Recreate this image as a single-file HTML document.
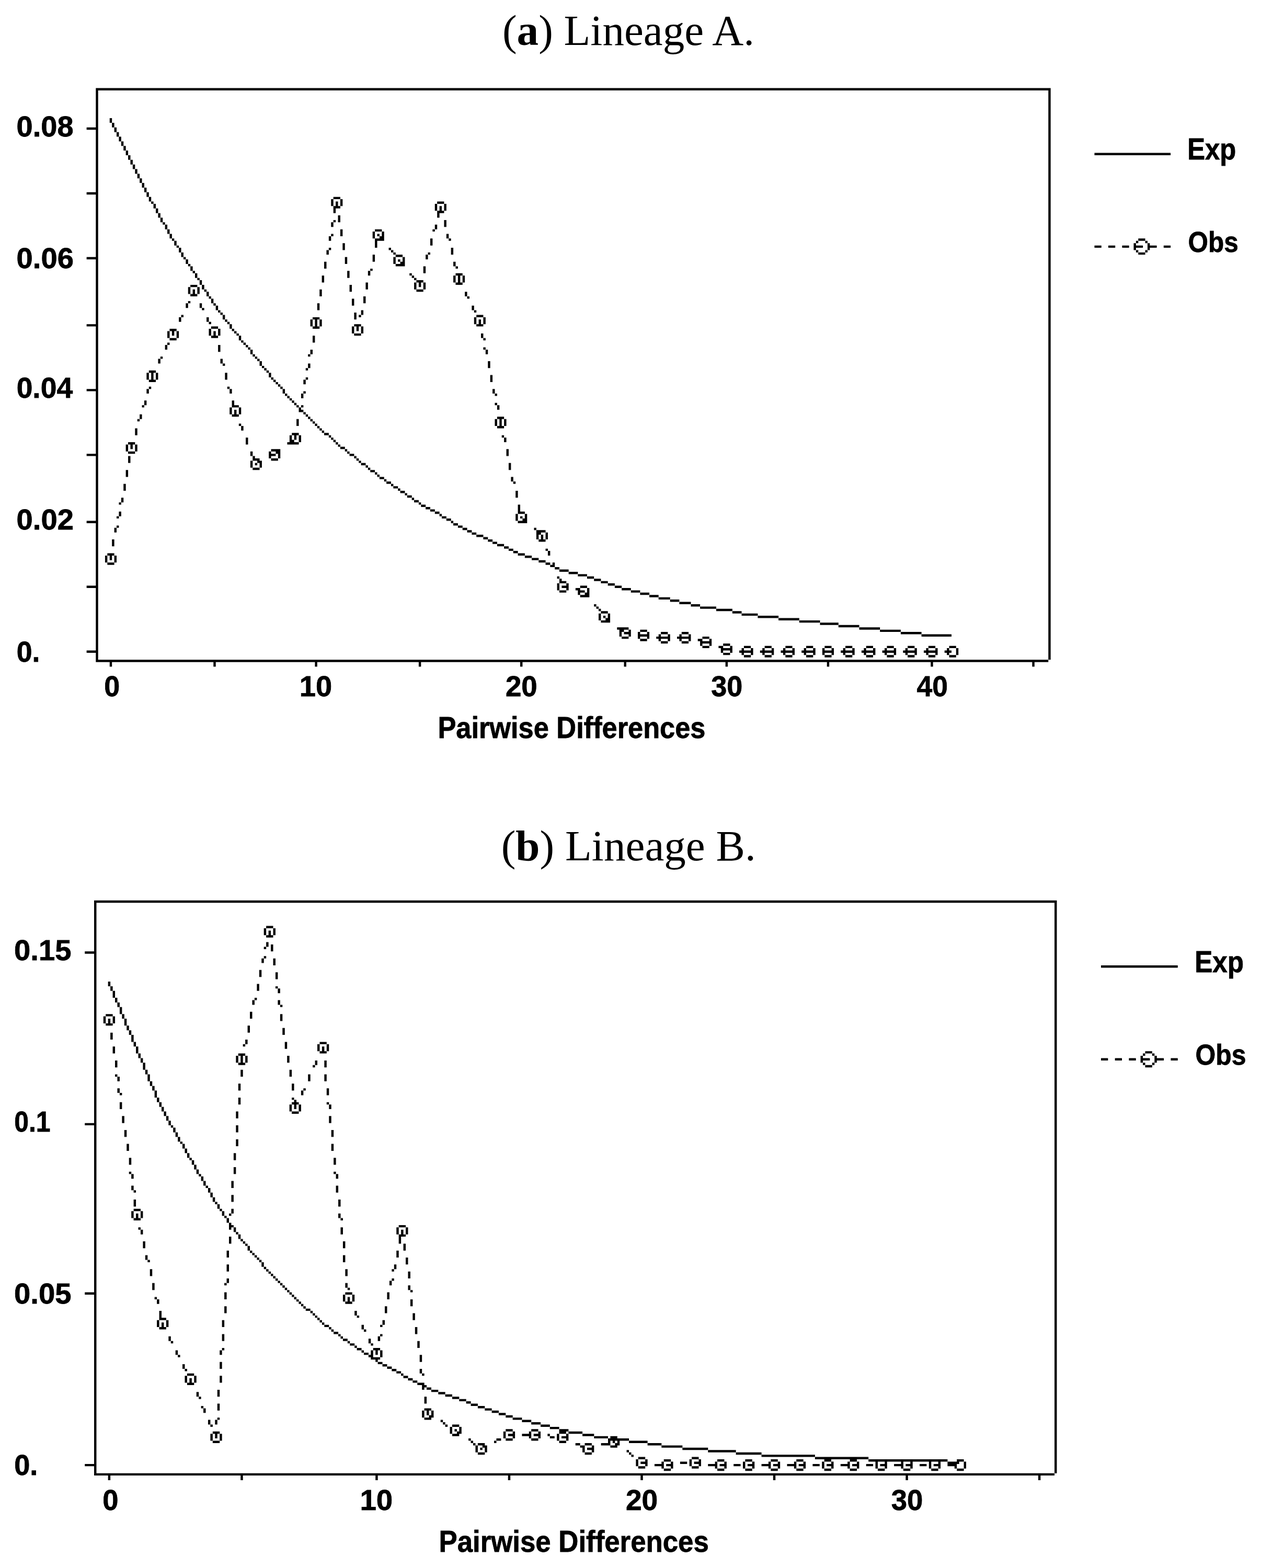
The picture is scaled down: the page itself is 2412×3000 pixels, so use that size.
<!DOCTYPE html>
<html lang="en">
<head>
<meta charset="utf-8">
<title>Mismatch distributions: Lineage A and Lineage B</title>
<style>
html,body{margin:0;padding:0;background:#fff;}
body{width:2412px;height:3000px;overflow:hidden;}
svg{display:block;}
.t{font-family:"Liberation Serif","DejaVu Serif",serif;fill:#000;}
.s{font-family:"Liberation Sans","DejaVu Sans",sans-serif;font-weight:bold;fill:#000;stroke:#000;stroke-width:0.8px;stroke-linejoin:miter;}
.plot{fill:#000;}
</style>
</head>
<body>
<svg width="2412" height="3000" viewBox="0 0 2412 3000" role="img">
<rect width="2412" height="3000" fill="#fff"/>
<g id="panel-a">
<path class="plot" transform="translate(183.3,168.55) scale(4.4115,4.4278)" d="M-4 17h5v1h-5zM-4 45h5v1h-5zM-4 73h5v1h-5zM-4 102h5v1h-5zM-4 130h5v1h-5zM-4 158h5v1h-5zM-4 187h5v1h-5zM-4 215h5v1h-5zM-4 243h5v1h-5zM0 1h1v16h-1zM0 18h1v27h-1zM0 46h1v27h-1zM0 74h1v28h-1zM0 103h1v27h-1zM0 131h1v27h-1zM0 159h1v28h-1zM0 188h1v27h-1zM0 216h1v27h-1zM0 244h1v3h-1zM0 247h413v1h-413zM0 0h414v1h-414zM4 202h1v3h-1zM5 201h3v1h-3zM5 205h3v1h-3zM6 13h1v2h-1zM6 202h1v2h-1zM6 248h1v2h-1zM7 15h1v2h-1zM7 195h1v3h-1zM8 17h1v2h-1zM8 190h1v2h-1zM8 202h1v3h-1zM9 19h1v2h-1zM9 185h1v1h-1zM9 189h1v1h-1zM10 21h1v2h-1zM10 179h1v1h-1zM10 183h1v2h-1zM11 23h1v2h-1zM11 177h1v2h-1zM12 25h1v2h-1zM12 171h1v3h-1zM13 27h1v2h-1zM13 154h1v3h-1zM13 165h1v3h-1zM14 29h1v2h-1zM14 159h1v3h-1zM14 153h3v1h-3zM14 157h3v1h-3zM15 31h1v2h-1zM15 154h1v2h-1zM16 33h1v2h-1zM17 35h1v2h-1zM17 147h1v3h-1zM17 154h1v3h-1zM18 37h1v2h-1zM18 143h1v1h-1zM19 39h1v2h-1zM19 141h1v2h-1zM20 41h1v2h-1zM20 137h1v1h-1zM21 43h1v2h-1zM21 135h1v2h-1zM22 45h1v2h-1zM22 123h1v3h-1zM22 130h1v2h-1zM23 47h1v2h-1zM23 129h1v1h-1zM23 122h3v1h-3zM23 126h3v1h-3zM24 49h1v1h-1zM24 123h1v3h-1zM25 50h1v2h-1zM26 52h1v2h-1zM26 123h1v3h-1zM27 54h1v2h-1zM27 117h1v2h-1zM28 56h1v2h-1zM28 116h1v1h-1zM29 58h1v1h-1zM30 59h1v2h-1zM30 111h1v2h-1zM31 61h1v2h-1zM31 105h1v3h-1zM31 110h1v1h-1zM32 63h1v2h-1zM32 104h3v1h-3zM32 108h3v1h-3zM33 65h1v1h-1zM33 105h1v2h-1zM34 66h1v2h-1zM35 68h1v1h-1zM35 105h1v3h-1zM36 69h1v2h-1zM36 99h1v2h-1zM37 71h1v2h-1zM37 98h1v1h-1zM38 73h1v1h-1zM39 74h1v2h-1zM39 93h1v2h-1zM40 76h1v1h-1zM40 86h1v3h-1zM40 92h1v1h-1zM41 77h1v2h-1zM41 85h3v1h-3zM41 89h3v1h-3zM42 79h1v1h-1zM42 87h1v2h-1zM43 80h1v2h-1zM44 82h1v1h-1zM44 86h1v3h-1zM45 83h1v2h-1zM45 93h1v2h-1zM46 85h1v2h-1zM46 95h1v1h-1zM47 87h1v1h-1zM48 88h1v2h-1zM48 99h1v2h-1zM49 90h1v1h-1zM49 101h1v1h-1zM49 104h1v3h-1zM50 91h1v2h-1zM50 103h3v1h-3zM50 107h3v1h-3zM51 93h1v1h-1zM51 105h1v2h-1zM51 248h1v2h-1zM52 94h1v2h-1zM53 96h1v1h-1zM53 104h1v3h-1zM53 111h1v3h-1zM54 97h1v1h-1zM54 117h1v2h-1zM55 98h1v2h-1zM55 119h1v1h-1zM56 100h1v1h-1zM56 123h1v3h-1zM57 101h1v1h-1zM57 129h1v1h-1zM58 102h1v2h-1zM58 130h1v2h-1zM58 138h1v3h-1zM59 104h1v1h-1zM59 135h1v2h-1zM59 137h3v1h-3zM59 141h3v1h-3zM60 105h1v1h-1zM60 139h1v2h-1zM61 106h1v1h-1zM62 107h1v2h-1zM62 138h1v3h-1zM62 145h1v1h-1zM63 109h1v1h-1zM63 146h1v2h-1zM64 110h1v1h-1zM65 111h1v1h-1zM65 151h1v3h-1zM66 112h1v1h-1zM67 113h1v2h-1zM67 157h1v2h-1zM67 161h1v3h-1zM68 115h1v1h-1zM68 159h1v1h-1zM68 160h3v1h-3zM68 164h3v1h-3zM69 116h1v1h-1zM69 162h1v1h-1zM70 117h1v1h-1zM70 161h2v1h-2zM71 118h1v2h-1zM71 162h1v2h-1zM72 120h1v1h-1zM73 121h1v1h-1zM74 122h1v1h-1zM75 123h1v2h-1zM75 157h1v1h-1zM75 159h1v1h-1zM75 158h3v1h-3zM76 125h1v1h-1zM76 160h3v1h-3zM76 156h4v1h-4zM77 126h1v1h-1zM78 127h1v1h-1zM78 157h2v1h-2zM79 128h1v1h-1zM79 158h1v2h-1zM80 129h1v1h-1zM81 130h1v2h-1zM82 132h1v1h-1zM83 133h1v1h-1zM83 153h5v1h-5zM84 134h1v1h-1zM84 150h1v2h-1zM84 152h2v1h-2zM85 135h1v1h-1zM85 149h3v1h-3zM86 136h1v1h-1zM86 150h1v2h-1zM87 137h1v1h-1zM87 143h1v3h-1zM88 138h1v1h-1zM88 150h1v3h-1zM88 139h2v1h-2zM89 132h1v2h-1zM89 137h1v1h-1zM90 126h1v2h-1zM90 131h1v1h-1zM90 140h1v1h-1zM91 121h1v1h-1zM91 125h1v1h-1zM91 141h1v1h-1zM92 115h1v1h-1zM92 119h1v2h-1zM92 142h1v1h-1zM93 100h1v3h-1zM93 113h1v2h-1zM93 143h1v1h-1zM94 107h1v3h-1zM94 144h1v1h-1zM94 99h3v1h-3zM94 103h3v1h-3zM95 100h1v3h-1zM95 145h1v1h-1zM95 248h1v2h-1zM96 93h1v3h-1zM96 146h1v1h-1zM97 87h1v3h-1zM97 100h1v3h-1zM97 147h1v1h-1zM98 81h1v3h-1zM98 148h1v1h-1zM99 75h1v3h-1zM99 149h2v1h-2zM100 70h1v2h-1zM101 64h1v2h-1zM101 69h1v1h-1zM101 150h1v1h-1zM102 48h1v3h-1zM102 58h1v2h-1zM102 63h1v1h-1zM102 151h1v1h-1zM103 52h1v2h-1zM103 57h1v1h-1zM103 152h1v1h-1zM103 47h3v1h-3zM103 51h3v1h-3zM104 49h1v2h-1zM104 153h1v1h-1zM105 55h1v3h-1zM105 154h1v1h-1zM106 48h1v3h-1zM106 61h1v3h-1zM106 155h2v1h-2zM107 67h1v3h-1zM108 73h1v3h-1zM108 156h1v1h-1zM109 79h1v3h-1zM109 157h1v1h-1zM110 85h1v3h-1zM110 158h2v1h-2zM111 91h1v3h-1zM111 103h1v3h-1zM112 97h1v3h-1zM112 159h1v1h-1zM112 102h3v1h-3zM112 106h3v1h-3zM113 103h1v2h-1zM113 160h1v1h-1zM114 98h1v1h-1zM114 161h1v1h-1zM115 96h1v2h-1zM115 103h1v3h-1zM115 162h2v1h-2zM116 90h1v3h-1zM117 84h1v3h-1zM117 163h1v1h-1zM118 79h1v2h-1zM118 164h1v1h-1zM119 78h1v1h-1zM119 165h2v1h-2zM120 62h1v3h-1zM120 72h1v3h-1zM121 66h1v3h-1zM121 166h1v1h-1zM121 61h3v1h-3zM121 65h4v1h-4zM122 63h1v1h-1zM122 167h1v1h-1zM123 64h2v1h-2zM123 168h2v1h-2zM124 62h1v2h-1zM125 169h1v1h-1zM126 170h2v1h-2zM127 69h1v1h-1zM128 70h1v1h-1zM128 171h1v1h-1zM129 71h1v1h-1zM129 73h1v3h-1zM129 172h2v1h-2zM130 72h3v1h-3zM130 76h4v1h-4zM131 74h1v1h-1zM131 173h1v1h-1zM132 75h2v1h-2zM132 174h2v1h-2zM133 73h1v2h-1zM134 175h1v1h-1zM135 176h2v1h-2zM136 80h1v1h-1zM137 81h1v1h-1zM137 177h1v1h-1zM138 82h1v1h-1zM138 84h1v3h-1zM138 178h2v1h-2zM139 83h3v1h-3zM139 87h3v1h-3zM140 84h1v2h-1zM140 179h1v1h-1zM140 248h1v2h-1zM141 180h2v1h-2zM142 77h1v3h-1zM142 84h1v3h-1zM143 72h1v2h-1zM143 181h2v1h-2zM144 71h1v1h-1zM145 65h1v3h-1zM145 182h2v1h-2zM146 61h1v1h-1zM147 50h1v3h-1zM147 59h1v2h-1zM147 183h2v1h-2zM148 54h1v2h-1zM148 49h3v1h-3zM148 53h3v1h-3zM149 51h1v2h-1zM149 184h1v1h-1zM150 185h2v1h-2zM151 50h1v3h-1zM151 57h1v3h-1zM152 63h1v2h-1zM152 186h2v1h-2zM153 65h1v1h-1zM154 69h1v3h-1zM154 187h1v1h-1zM155 75h1v2h-1zM155 81h1v3h-1zM155 188h2v1h-2zM156 77h1v1h-1zM156 80h3v1h-3zM156 84h3v1h-3zM157 81h1v3h-1zM157 189h2v1h-2zM159 81h1v3h-1zM159 190h2v1h-2zM160 88h1v2h-1zM161 90h1v1h-1zM161 191h2v1h-2zM163 94h1v2h-1zM163 192h2v1h-2zM164 96h1v1h-1zM164 99h1v3h-1zM165 98h3v1h-3zM165 102h3v1h-3zM165 193h3v1h-3zM166 100h1v2h-1zM167 106h1v2h-1zM168 99h1v3h-1zM168 108h1v1h-1zM168 112h1v1h-1zM168 194h2v1h-2zM169 113h1v2h-1zM170 118h1v3h-1zM170 195h2v1h-2zM171 124h1v3h-1zM172 130h1v2h-1zM172 196h2v1h-2zM173 132h1v1h-1zM173 136h1v1h-1zM173 143h1v3h-1zM174 137h1v2h-1zM174 142h3v1h-3zM174 146h3v1h-3zM174 197h3v1h-3zM175 143h1v3h-1zM176 150h1v1h-1zM177 143h1v3h-1zM177 151h1v2h-1zM177 198h2v1h-2zM178 156h1v3h-1zM179 162h1v3h-1zM179 199h2v1h-2zM180 168h1v2h-1zM181 170h1v1h-1zM181 200h2v1h-2zM182 174h1v3h-1zM182 184h1v3h-1zM183 180h1v3h-1zM183 183h3v1h-3zM183 201h3v1h-3zM183 187h4v1h-4zM184 185h1v1h-1zM184 248h1v2h-1zM185 186h2v1h-2zM186 184h1v2h-1zM186 202h3v1h-3zM189 203h3v1h-3zM190 190h1v1h-1zM191 193h1v2h-1zM191 192h2v1h-2zM191 191h4v1h-4zM192 195h3v1h-3zM192 204h3v1h-3zM193 193h1v2h-1zM195 192h1v3h-1zM195 199h1v1h-1zM195 205h2v1h-2zM196 200h1v2h-1zM197 206h2v1h-2zM198 205h1v1h-1zM199 207h2v1h-2zM200 211h1v1h-1zM200 214h1v3h-1zM201 212h1v1h-1zM201 213h3v1h-3zM201 217h3v1h-3zM201 208h4v1h-4zM202 215h3v1h-3zM204 214h1v1h-1zM204 216h1v1h-1zM205 209h4v1h-4zM208 216h2v1h-2zM209 218h1v1h-1zM209 217h3v1h-3zM209 210h4v1h-4zM210 215h3v1h-3zM210 219h4v1h-4zM212 218h2v1h-2zM213 216h1v2h-1zM213 211h3v1h-3zM216 223h1v1h-1zM216 212h3v1h-3zM217 224h1v1h-1zM218 225h1v1h-1zM218 227h1v3h-1zM219 213h3v1h-3zM219 226h3v1h-3zM219 230h4v1h-4zM220 228h1v1h-1zM221 229h2v1h-2zM222 227h1v2h-1zM222 214h3v1h-3zM225 215h3v1h-3zM226 233h5v1h-5zM227 235h1v2h-1zM227 234h2v1h-2zM228 237h3v1h-3zM228 216h4v1h-4zM229 248h1v2h-1zM229 235h3v1h-3zM231 234h1v1h-1zM231 236h1v1h-1zM232 217h4v1h-4zM235 235h1v1h-1zM235 237h1v1h-1zM235 236h5v1h-5zM236 234h3v1h-3zM236 238h3v1h-3zM236 218h4v1h-4zM239 235h1v1h-1zM239 237h1v1h-1zM240 219h4v1h-4zM243 237h6v1h-6zM244 236h1v1h-1zM244 238h1v1h-1zM244 220h5v1h-5zM245 235h3v1h-3zM245 239h3v1h-3zM248 236h1v1h-1zM248 238h1v1h-1zM249 221h4v1h-4zM252 237h6v1h-6zM253 236h1v1h-1zM253 238h1v1h-1zM253 222h5v1h-5zM254 235h3v1h-3zM254 239h3v1h-3zM257 236h1v1h-1zM257 238h1v1h-1zM258 223h4v1h-4zM261 238h2v1h-2zM262 240h1v1h-1zM262 239h5v1h-5zM262 224h7v1h-7zM263 237h3v1h-3zM263 241h3v1h-3zM266 238h1v1h-1zM266 240h1v1h-1zM269 225h7v1h-7zM270 241h2v1h-2zM271 243h1v1h-1zM271 242h5v1h-5zM272 240h3v1h-3zM272 244h3v1h-3zM273 248h1v2h-1zM275 241h1v1h-1zM275 243h1v1h-1zM276 226h4v1h-4zM279 243h6v1h-6zM280 242h1v1h-1zM280 244h1v1h-1zM280 227h7v1h-7zM281 241h3v1h-3zM281 245h3v1h-3zM284 242h1v1h-1zM284 244h1v1h-1zM287 228h9v1h-9zM288 243h6v1h-6zM289 242h1v1h-1zM289 244h1v1h-1zM290 241h3v1h-3zM290 245h3v1h-3zM293 242h1v1h-1zM293 244h1v1h-1zM296 229h9v1h-9zM297 243h6v1h-6zM298 242h1v1h-1zM298 244h1v1h-1zM299 241h3v1h-3zM299 245h3v1h-3zM302 242h1v1h-1zM302 244h1v1h-1zM305 230h9v1h-9zM306 243h6v1h-6zM307 242h1v1h-1zM307 244h1v1h-1zM308 241h3v1h-3zM308 245h3v1h-3zM311 242h1v1h-1zM311 244h1v1h-1zM314 231h8v1h-8zM315 242h1v1h-1zM315 244h1v1h-1zM315 243h5v1h-5zM316 241h3v1h-3zM316 245h3v1h-3zM317 248h1v2h-1zM319 242h1v1h-1zM319 244h1v1h-1zM322 232h9v1h-9zM323 243h6v1h-6zM324 242h1v1h-1zM324 244h1v1h-1zM325 241h3v1h-3zM325 245h3v1h-3zM328 242h1v1h-1zM328 244h1v1h-1zM331 233h9v1h-9zM332 243h6v1h-6zM333 242h1v1h-1zM333 244h1v1h-1zM334 241h3v1h-3zM334 245h3v1h-3zM337 242h1v1h-1zM337 244h1v1h-1zM340 234h9v1h-9zM341 243h6v1h-6zM342 242h1v1h-1zM342 244h1v1h-1zM343 241h3v1h-3zM343 245h3v1h-3zM346 242h1v1h-1zM346 244h1v1h-1zM349 235h9v1h-9zM350 243h6v1h-6zM351 242h1v1h-1zM351 244h1v1h-1zM352 241h3v1h-3zM352 245h3v1h-3zM355 242h1v1h-1zM355 244h1v1h-1zM358 236h13v1h-13zM359 243h6v1h-6zM360 242h1v1h-1zM360 244h1v1h-1zM361 241h3v1h-3zM361 245h3v1h-3zM362 248h1v2h-1zM364 242h1v1h-1zM364 244h1v1h-1zM368 243h3v1h-3zM369 242h1v1h-1zM369 244h1v1h-1zM370 241h3v1h-3zM370 245h3v1h-3zM373 242h1v3h-1zM406 248h1v2h-1zM413 1h1v246h-1zM433 68h3v1h-3zM433 28h33v1h-33zM439 68h3v1h-3zM445 68h3v1h-3zM450 67h1v1h-1zM450 69h1v1h-1zM450 68h4v1h-4zM451 66h1v1h-1zM451 70h1v1h-1zM452 65h3v1h-3zM452 71h3v1h-3zM455 66h1v1h-1zM455 70h1v1h-1zM456 67h1v1h-1zM456 69h1v1h-1zM456 68h4v1h-4zM463 68h3v1h-3z"/>
<text class="t" font-size="84" transform="translate(960.92,86.07) scale(0.9894,0.9931)">(<tspan font-weight="bold">a</tspan>) Lineage A.</text>
<text class="s" font-size="55" transform="translate(31.61,260.53) scale(1.0180,1.0046)">0.08</text>
<text class="s" font-size="55" transform="translate(31.61,512.91) scale(1.0213,1.0046)">0.06</text>
<text class="s" font-size="55" transform="translate(31.63,760.87) scale(1.0052,1.0046)">0.04</text>
<text class="s" font-size="55" transform="translate(31.61,1013.26) scale(1.0213,1.0046)">0.02</text>
<text class="s" font-size="55" transform="translate(31.68,1265.64) scale(0.9763,1.0046)">0.</text>
<text class="s" font-size="55" transform="translate(199.31,1332.06) scale(0.9803,1.0046)">0</text>
<text class="s" font-size="55" transform="translate(572.87,1332.06) scale(1.0180,1.0046)">10</text>
<text class="s" font-size="55" transform="translate(966.89,1332.06) scale(0.9945,1.0046)">20</text>
<text class="s" font-size="55" transform="translate(1360.19,1332.06) scale(0.9831,1.0046)">30</text>
<text class="s" font-size="55" transform="translate(1753.47,1332.06) scale(0.9720,1.0046)">40</text>
<text class="s" font-size="55" transform="translate(837.44,1412.42) scale(0.9518,1.0306)">Pairwise Differences</text>
<text class="s" font-size="55" transform="translate(2271.28,305.47) scale(0.9223,1.0306)">Exp</text>
<text class="s" font-size="55" transform="translate(2272.55,481.92) scale(0.8994,1.0046)">Obs</text>
</g>
<g id="panel-b">
<path class="plot" transform="translate(180.0,1722.75) scale(4.448,4.4368)" d="M-4 22h5v1h-5zM-4 96h5v1h-5zM-4 169h5v1h-5zM-4 243h5v1h-5zM0 1h1v21h-1zM0 23h1v73h-1zM0 97h1v72h-1zM0 170h1v73h-1zM0 244h1v3h-1zM0 247h413v1h-413zM0 0h414v1h-414zM4 50h1v3h-1zM5 49h3v1h-3zM5 53h3v1h-3zM6 35h1v2h-1zM6 51h1v2h-1zM6 248h1v2h-1zM7 37h1v2h-1zM7 57h1v3h-1zM8 39h1v3h-1zM8 50h1v3h-1zM8 63h1v3h-1zM9 42h1v2h-1zM9 69h1v3h-1zM9 75h1v1h-1zM10 44h1v2h-1zM10 76h1v2h-1zM10 81h1v2h-1zM11 46h1v3h-1zM11 83h1v1h-1zM11 87h1v3h-1zM12 49h1v2h-1zM12 93h1v3h-1zM13 51h1v3h-1zM13 99h1v3h-1zM14 54h1v2h-1zM14 105h1v3h-1zM15 56h1v2h-1zM15 111h1v3h-1zM15 117h1v1h-1zM16 58h1v3h-1zM16 118h1v2h-1zM16 123h1v2h-1zM16 134h1v3h-1zM17 61h1v2h-1zM17 125h1v1h-1zM17 129h1v3h-1zM17 133h3v1h-3zM17 137h3v1h-3zM18 63h1v3h-1zM18 135h1v2h-1zM19 66h1v2h-1zM19 141h1v1h-1zM20 68h1v2h-1zM20 134h1v3h-1zM20 142h1v2h-1zM21 70h1v3h-1zM21 147h1v3h-1zM22 73h1v2h-1zM22 153h1v2h-1zM23 75h1v3h-1zM23 155h1v1h-1zM24 78h1v2h-1zM24 159h1v3h-1zM25 80h1v2h-1zM25 165h1v3h-1zM26 82h1v3h-1zM26 171h1v1h-1zM27 85h1v2h-1zM27 172h1v2h-1zM27 181h1v3h-1zM28 87h1v2h-1zM28 177h1v3h-1zM28 180h3v1h-3zM28 184h3v1h-3zM29 89h1v2h-1zM29 182h1v2h-1zM30 91h1v2h-1zM31 93h1v2h-1zM31 181h1v3h-1zM32 95h1v2h-1zM32 188h1v2h-1zM33 97h1v1h-1zM33 190h1v1h-1zM34 98h1v2h-1zM35 100h1v2h-1zM35 194h1v2h-1zM36 102h1v2h-1zM36 196h1v1h-1zM37 104h1v1h-1zM38 105h1v2h-1zM38 200h1v2h-1zM39 107h1v2h-1zM39 202h1v1h-1zM39 205h1v3h-1zM40 109h1v2h-1zM40 204h3v1h-3zM40 208h3v1h-3zM41 111h1v1h-1zM41 206h1v2h-1zM42 112h1v2h-1zM43 114h1v2h-1zM43 205h1v3h-1zM44 116h1v2h-1zM44 212h1v2h-1zM45 118h1v1h-1zM45 214h1v1h-1zM46 119h1v2h-1zM46 218h1v1h-1zM47 121h1v2h-1zM47 219h1v2h-1zM48 123h1v1h-1zM49 124h1v2h-1zM49 224h1v2h-1zM50 126h1v2h-1zM50 226h1v1h-1zM50 230h1v3h-1zM51 128h1v2h-1zM51 229h3v1h-3zM51 233h3v1h-3zM52 130h1v1h-1zM52 224h1v2h-1zM52 230h1v2h-1zM53 131h1v2h-1zM53 211h1v3h-1zM53 217h1v3h-1zM53 223h1v1h-1zM54 133h1v1h-1zM54 194h1v2h-1zM54 199h1v3h-1zM54 205h1v3h-1zM54 230h1v3h-1zM55 134h1v2h-1zM55 181h1v3h-1zM55 187h1v3h-1zM55 193h1v1h-1zM56 136h1v1h-1zM56 165h1v1h-1zM56 169h1v3h-1zM56 175h1v3h-1zM57 137h1v2h-1zM57 151h1v3h-1zM57 157h1v3h-1zM57 163h1v2h-1zM58 135h1v1h-1zM58 139h1v1h-1zM58 141h1v1h-1zM58 145h1v3h-1zM58 140h2v1h-2zM59 121h1v3h-1zM59 127h1v3h-1zM59 133h1v2h-1zM60 109h1v3h-1zM60 115h1v3h-1zM60 141h1v2h-1zM61 67h1v3h-1zM61 91h1v3h-1zM61 97h1v3h-1zM61 103h1v3h-1zM61 143h1v1h-1zM62 79h1v3h-1zM62 85h1v3h-1zM62 144h1v2h-1zM62 66h3v1h-3zM62 70h3v1h-3zM63 67h1v3h-1zM63 73h1v3h-1zM63 146h1v1h-1zM63 248h1v2h-1zM64 62h1v1h-1zM64 147h1v1h-1zM65 60h1v2h-1zM65 67h1v3h-1zM65 148h1v1h-1zM66 54h1v3h-1zM66 149h1v2h-1zM67 48h1v3h-1zM67 151h1v1h-1zM68 43h1v2h-1zM68 152h1v1h-1zM69 42h1v1h-1zM69 153h1v1h-1zM70 36h1v3h-1zM70 154h1v1h-1zM71 30h1v3h-1zM71 155h1v1h-1zM72 25h1v2h-1zM72 156h1v2h-1zM73 12h1v3h-1zM73 20h1v1h-1zM73 24h1v1h-1zM73 158h1v1h-1zM74 18h1v2h-1zM74 159h1v1h-1zM74 11h3v1h-3zM74 15h3v1h-3zM75 13h1v2h-1zM75 160h1v1h-1zM76 19h1v3h-1zM76 161h1v1h-1zM77 12h1v3h-1zM77 25h1v3h-1zM77 162h1v1h-1zM78 31h1v3h-1zM78 37h1v1h-1zM78 163h1v1h-1zM79 38h1v2h-1zM79 43h1v2h-1zM79 164h1v1h-1zM80 45h1v1h-1zM80 49h1v3h-1zM80 165h1v1h-1zM81 55h1v3h-1zM81 166h1v1h-1zM82 61h1v3h-1zM82 167h1v1h-1zM83 67h1v3h-1zM83 168h1v1h-1zM84 73h1v3h-1zM84 88h1v3h-1zM84 169h1v1h-1zM85 79h1v3h-1zM85 85h1v1h-1zM85 170h1v1h-1zM85 87h3v1h-3zM85 91h3v1h-3zM86 86h1v1h-1zM86 88h1v2h-1zM86 171h1v1h-1zM87 172h1v1h-1zM88 88h1v3h-1zM88 173h1v1h-1zM89 82h1v2h-1zM89 174h1v1h-1zM90 81h1v1h-1zM90 175h1v1h-1zM91 176h2v1h-2zM92 75h1v3h-1zM93 177h1v1h-1zM94 71h1v1h-1zM94 178h1v1h-1zM95 69h1v2h-1zM95 179h1v1h-1zM96 62h1v3h-1zM96 180h1v1h-1zM97 181h1v1h-1zM97 61h3v1h-3zM97 65h3v1h-3zM98 63h1v2h-1zM98 182h1v1h-1zM99 69h1v3h-1zM99 75h1v3h-1zM99 183h2v1h-2zM100 62h1v3h-1zM100 81h1v3h-1zM100 87h1v1h-1zM101 88h1v2h-1zM101 93h1v3h-1zM101 184h1v1h-1zM102 99h1v3h-1zM102 105h1v3h-1zM102 185h1v1h-1zM103 111h1v3h-1zM103 117h1v1h-1zM103 186h2v1h-2zM104 118h1v2h-1zM104 123h1v3h-1zM105 129h1v3h-1zM105 135h1v2h-1zM105 187h1v1h-1zM106 137h1v1h-1zM106 141h1v3h-1zM106 188h1v1h-1zM107 147h1v3h-1zM107 153h1v3h-1zM107 170h1v3h-1zM107 189h2v1h-2zM108 159h1v3h-1zM108 165h1v2h-1zM108 169h3v1h-3zM108 173h3v1h-3zM109 167h1v1h-1zM109 171h1v2h-1zM109 190h1v1h-1zM110 191h2v1h-2zM111 170h1v3h-1zM112 177h1v2h-1zM112 192h1v1h-1zM113 179h1v1h-1zM113 193h2v1h-2zM115 183h1v2h-1zM115 194h1v1h-1zM116 185h1v1h-1zM116 195h2v1h-2zM118 189h1v2h-1zM118 196h2v1h-2zM119 191h1v1h-1zM119 194h1v2h-1zM119 197h4v1h-4zM120 193h3v1h-3zM121 194h1v2h-1zM121 198h1v1h-1zM121 248h1v2h-1zM122 188h1v2h-1zM122 199h2v1h-2zM123 183h1v1h-1zM123 187h1v1h-1zM123 194h1v3h-1zM124 181h1v2h-1zM124 200h2v1h-2zM125 175h1v3h-1zM126 169h1v3h-1zM126 201h2v1h-2zM127 164h1v2h-1zM128 159h1v1h-1zM128 163h1v1h-1zM128 202h2v1h-2zM129 157h1v2h-1zM130 141h1v3h-1zM130 151h1v3h-1zM130 203h2v1h-2zM131 145h1v3h-1zM131 140h3v1h-3zM131 144h3v1h-3zM132 142h1v2h-1zM132 204h1v1h-1zM133 148h1v3h-1zM133 205h2v1h-2zM134 141h1v3h-1zM134 154h1v3h-1zM135 160h1v3h-1zM135 166h1v2h-1zM135 206h2v1h-2zM136 168h1v1h-1zM136 172h1v3h-1zM137 178h1v3h-1zM137 207h2v1h-2zM138 184h1v3h-1zM139 190h1v3h-1zM139 208h3v1h-3zM140 196h1v3h-1zM140 202h1v2h-1zM141 204h1v1h-1zM141 210h1v1h-1zM141 220h1v3h-1zM141 209h2v1h-2zM142 214h1v3h-1zM142 219h3v1h-3zM142 223h3v1h-3zM143 220h1v2h-1zM143 210h2v1h-2zM144 222h2v1h-2zM145 220h1v2h-1zM145 211h3v1h-3zM148 212h3v1h-3zM149 224h1v1h-1zM150 225h1v1h-1zM151 226h1v1h-1zM151 213h3v1h-3zM153 227h1v3h-1zM154 214h3v1h-3zM154 226h3v1h-3zM154 230h3v1h-3zM155 228h1v1h-1zM156 229h2v1h-2zM157 227h1v2h-1zM157 215h3v1h-3zM160 216h2v1h-2zM161 232h1v1h-1zM162 233h1v1h-1zM162 217h3v1h-3zM163 234h1v1h-1zM164 235h1v3h-1zM165 218h3v1h-3zM165 234h3v1h-3zM165 238h3v1h-3zM166 236h1v1h-1zM167 235h2v1h-2zM168 236h1v2h-1zM168 219h3v1h-3zM171 220h3v1h-3zM172 233h1v1h-1zM173 232h2v1h-2zM174 221h3v1h-3zM176 229h1v3h-1zM177 222h3v1h-3zM177 228h3v1h-3zM177 232h3v1h-3zM178 248h1v2h-1zM178 230h3v1h-3zM180 229h1v1h-1zM180 231h1v1h-1zM180 223h4v1h-4zM184 224h4v1h-4zM184 230h4v1h-4zM187 229h1v1h-1zM187 231h1v1h-1zM188 228h3v1h-3zM188 232h3v1h-3zM188 225h4v1h-4zM189 230h3v1h-3zM191 229h1v1h-1zM191 231h1v1h-1zM192 226h4v1h-4zM195 230h1v1h-1zM196 231h2v1h-2zM196 227h4v1h-4zM199 230h1v3h-1zM200 229h3v1h-3zM200 233h3v1h-3zM200 228h4v1h-4zM201 231h3v1h-3zM203 230h1v1h-1zM203 232h1v1h-1zM204 229h6v1h-6zM207 234h2v1h-2zM209 235h2v1h-2zM210 236h1v2h-1zM210 230h5v1h-5zM211 234h3v1h-3zM211 238h3v1h-3zM212 236h3v1h-3zM214 235h1v1h-1zM214 237h1v1h-1zM215 231h6v1h-6zM218 234h4v1h-4zM221 233h1v1h-1zM221 232h9v1h-9zM222 231h3v1h-3zM222 235h3v1h-3zM223 233h1v1h-1zM224 234h2v1h-2zM225 233h1v1h-1zM229 237h1v1h-1zM230 238h1v1h-1zM230 233h8v1h-8zM231 239h1v1h-1zM233 241h1v3h-1zM234 240h3v1h-3zM234 244h3v1h-3zM235 248h1v2h-1zM235 242h3v1h-3zM237 241h1v1h-1zM237 243h1v1h-1zM238 234h6v1h-6zM241 243h4v1h-4zM244 242h1v1h-1zM244 244h1v1h-1zM244 235h9v1h-9zM245 241h3v1h-3zM245 245h3v1h-3zM246 243h3v1h-3zM248 242h1v1h-1zM248 244h1v1h-1zM252 242h3v1h-3zM253 236h11v1h-11zM256 241h1v3h-1zM257 240h3v1h-3zM257 244h3v1h-3zM258 242h3v1h-3zM260 241h1v1h-1zM260 243h1v1h-1zM264 243h4v1h-4zM264 237h12v1h-12zM267 242h1v1h-1zM267 244h1v1h-1zM268 241h3v1h-3zM268 245h3v1h-3zM269 243h3v1h-3zM271 242h1v1h-1zM271 244h1v1h-1zM275 243h3v1h-3zM276 238h11v1h-11zM279 242h1v3h-1zM280 241h3v1h-3zM280 245h3v1h-3zM281 243h3v1h-3zM283 242h1v1h-1zM283 244h1v1h-1zM287 243h4v1h-4zM287 239h23v1h-23zM290 242h1v1h-1zM290 244h1v1h-1zM291 241h3v1h-3zM291 245h3v1h-3zM292 248h1v2h-1zM292 243h3v1h-3zM294 242h1v1h-1zM294 244h1v1h-1zM298 243h4v1h-4zM301 242h1v1h-1zM301 244h1v1h-1zM302 241h3v1h-3zM302 245h3v1h-3zM303 243h3v1h-3zM305 242h1v1h-1zM305 244h1v1h-1zM309 243h3v1h-3zM310 240h23v1h-23zM313 242h1v3h-1zM314 241h3v1h-3zM314 245h3v1h-3zM315 243h3v1h-3zM317 242h1v1h-1zM317 244h1v1h-1zM321 243h4v1h-4zM324 242h1v1h-1zM324 244h1v1h-1zM325 241h3v1h-3zM325 245h3v1h-3zM326 243h3v1h-3zM328 242h1v1h-1zM328 244h1v1h-1zM332 243h3v1h-3zM333 241h34v1h-34zM336 242h1v3h-1zM337 245h3v1h-3zM338 243h3v1h-3zM340 242h1v1h-1zM340 244h1v1h-1zM344 243h4v1h-4zM347 242h1v1h-1zM347 244h1v1h-1zM348 245h3v1h-3zM349 248h1v2h-1zM349 243h3v1h-3zM351 242h1v1h-1zM351 244h1v1h-1zM355 243h3v1h-3zM359 242h1v3h-1zM360 245h3v1h-3zM361 243h3v1h-3zM363 242h1v1h-1zM363 244h1v1h-1zM367 243h4v1h-4zM367 242h5v1h-5zM370 244h1v1h-1zM371 241h3v1h-3zM371 245h3v1h-3zM374 242h1v3h-1zM406 248h1v2h-1zM413 1h1v246h-1zM433 68h3v1h-3zM433 28h33v1h-33zM439 68h3v1h-3zM445 68h3v1h-3zM450 67h1v1h-1zM450 69h1v1h-1zM450 68h4v1h-4zM451 66h1v1h-1zM451 70h1v1h-1zM452 65h3v1h-3zM452 71h3v1h-3zM455 66h1v1h-1zM455 70h1v1h-1zM456 67h1v1h-1zM456 69h1v1h-1zM456 68h4v1h-4zM463 68h3v1h-3z"/>
<text class="t" font-size="84" transform="translate(958.67,1646.07) scale(0.9899,0.9931)">(<tspan font-weight="bold">b</tspan>) Lineage B.</text>
<text class="s" font-size="55" transform="translate(27.06,1837.10) scale(1.0232,1.0067)">0.15</text>
<text class="s" font-size="55" transform="translate(27.26,2165.42) scale(0.9057,1.0067)">0.1</text>
<text class="s" font-size="55" transform="translate(27.06,2493.75) scale(1.0232,1.0067)">0.05</text>
<text class="s" font-size="55" transform="translate(27.13,2822.07) scale(0.9844,1.0067)">0.</text>
<text class="s" font-size="55" transform="translate(196.14,2888.62) scale(0.9884,1.0067)">0</text>
<text class="s" font-size="55" transform="translate(688.44,2888.62) scale(1.0265,1.0067)">10</text>
<text class="s" font-size="55" transform="translate(1196.92,2888.62) scale(1.0027,1.0067)">20</text>
<text class="s" font-size="55" transform="translate(1704.67,2888.62) scale(0.9913,1.0067)">30</text>
<text class="s" font-size="55" transform="translate(839.55,2969.15) scale(0.9597,1.0327)">Pairwise Differences</text>
<text class="s" font-size="55" transform="translate(2285.25,1859.95) scale(0.9299,1.0327)">Exp</text>
<text class="s" font-size="55" transform="translate(2286.54,2036.76) scale(0.9069,1.0067)">Obs</text>
</g>
</svg>
</body>
</html>
